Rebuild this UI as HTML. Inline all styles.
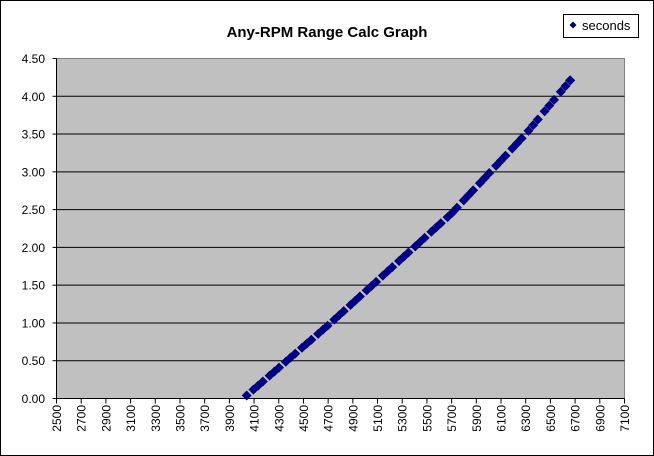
<!DOCTYPE html>
<html><head><meta charset="utf-8"><style>
html,body{margin:0;padding:0;background:#fff}
svg{display:block}
text{font-family:"Liberation Sans",Arial,sans-serif;fill:#000}
</style></head><body>
<svg id="s" width="654" height="456" xmlns="http://www.w3.org/2000/svg">
<rect x="0.5" y="0.5" width="653" height="455" fill="#fff" stroke="#000"/>
<text x="327" y="37" font-size="15" font-weight="bold" text-anchor="middle">Any-RPM Range Calc Graph</text>
<rect x="563.5" y="14.5" width="75" height="23" fill="#fff" stroke="#000"/>
<path d="M573 21.5 L576.5 25 L573 28.5 L569.5 25 Z" fill="#000080"/>
<text x="582" y="30" font-size="13">seconds</text>
<rect x="56.5" y="58.5" width="568" height="340" fill="#c0c0c0" stroke="#808080"/>
<g id="g"></g>
</svg>
<script>
var g=document.getElementById('g'),h='';
var X0=56.5,X1=624.5,Y0=398.5,Y1=58.5;
function x(v){return X0+(v-2500)*(X1-X0)/4600}
function y(s){return Y0-s*(Y0-Y1)/4.5}
for(var i=1;i<9;i++){var yy=y(i*0.5);h+='<line x1="'+X0+'" x2="'+X1+'" y1="'+yy+'" y2="'+yy+'" stroke="#000"/>';}
h+='<line x1="'+X0+'" x2="'+X0+'" y1="'+Y1+'" y2="'+Y0+'" stroke="#000"/>';
h+='<line x1="'+X0+'" x2="'+X1+'" y1="'+Y0+'" y2="'+Y0+'" stroke="#000"/>';
for(var i=0;i<10;i++){var yy=y(i*0.5);h+='<line x1="'+(X0-4)+'" x2="'+X0+'" y1="'+yy+'" y2="'+yy+'" stroke="#000"/>';
h+='<text x="45" y="'+(yy+4.5)+'" font-size="12" text-anchor="end">'+(i*0.5).toFixed(2)+'</text>';}
for(var v=2500;v<=7100;v+=200){var xx=x(v);h+='<line x1="'+xx+'" x2="'+xx+'" y1="'+Y0+'" y2="'+(Y0+5)+'" stroke="#000"/>';
h+='<text transform="translate('+(xx+4.5)+',405) rotate(-90)" font-size="12" text-anchor="end">'+v+'</text>';}
var A=[[4040,0.04],[4700,0.97],[5700,2.45],[6300,3.5],[6660,4.21]];
function f(v){for(var i=0;i<A.length-1;i++){if(v<=A[i+1][0]){var t=(v-A[i][0])/(A[i+1][0]-A[i][0]);return A[i][1]+t*(A[i+1][1]-A[i][1]);}}return A[A.length-1][1];}
var k=0,r=5;
function m(px,py){h+='<path d="M'+px+' '+(py-r)+' L'+(px+r)+' '+py+' L'+px+' '+(py+r)+' L'+(px-r)+' '+py+' Z" fill="#000080"/>';}
for(var v=4040;v<=6660;v+=(k++%3==0?55:38)){m(x(v),y(f(v)));}
m(x(6660),y(4.21));
g.innerHTML=h;
</script>
</body></html>
